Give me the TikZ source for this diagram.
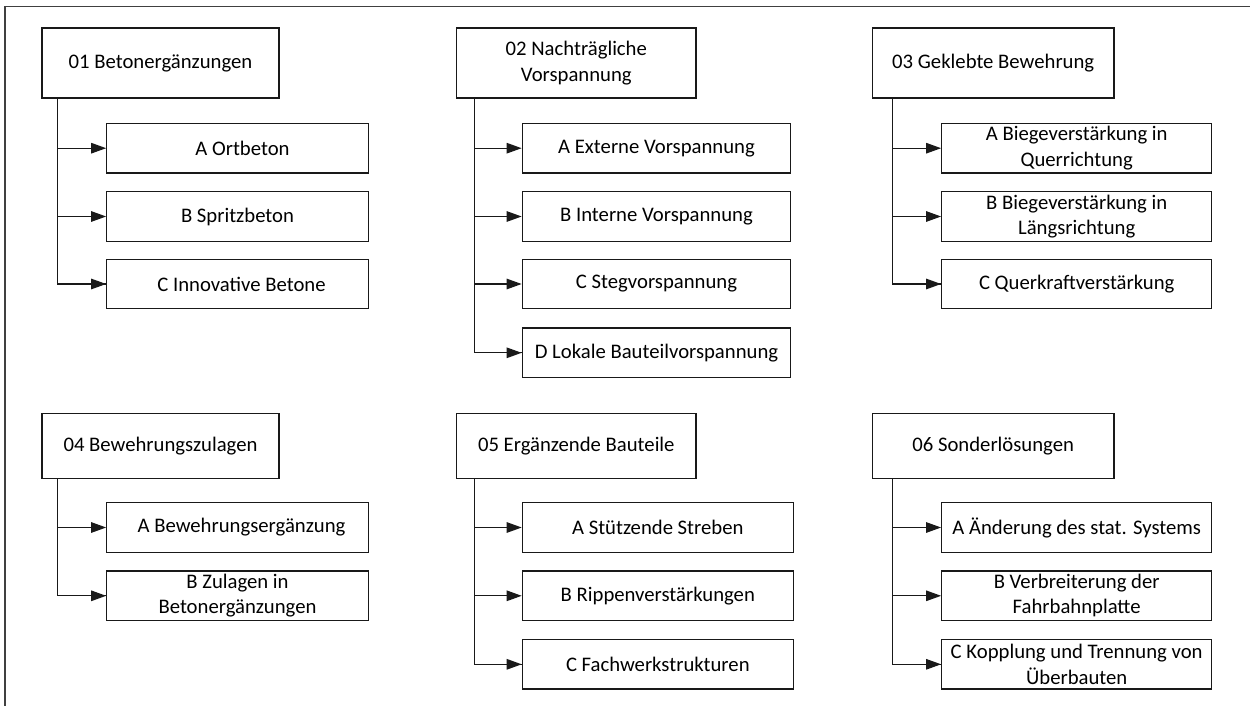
\documentclass[tikz,border=0pt]{standalone}
\usepackage{fontspec}
\setmainfont{Carlito}
\usetikzlibrary{arrows.meta}

\begin{document}
\begin{tikzpicture}[x=1bp,y=-1bp,
  every node/.style={font=\fontsize{20.7bp}{25.3bp}\selectfont, align=center, inner sep=0pt},
  headbox/.style={draw=black!90, line width=1.2bp, rectangle, minimum width=#1},
  subbox/.style={draw=black!90, line width=1.2bp, rectangle, minimum height=49.5bp, minimum width=#1},
  trunk/.style={draw=black!90, line width=1.2bp},
  branch/.style={draw=black!90, line width=1.2bp, -{Triangle[length=15bp,width=10.5bp]}},
  frameline/.style={draw=black!75, line width=1.6bp}
]
\useasboundingbox (0,0) rectangle (1250,706);

% outer frame (only left and top edges lie inside the page)
\draw[frameline] (5,712) -- (5,6.5) -- (1256,6.5);

% ---------- 01 ----------
\node[headbox=237bp, minimum height=70bp] (h1) at (160.5,63) {01 Betonergänzungen};
\node[subbox=261.5bp] (a1) at (237.5,148.2) {\hspace*{10bp}A Ortbeton};
\node[subbox=261.5bp] (b1) at (237.5,216.5) {B Spritzbeton};
\node[subbox=261.5bp] (c1) at (237.5,284) {\hspace*{8bp}C Innovative Betone};
\coordinate (t1) at (57.7,98);
\draw[trunk] (t1) |- (c1.west);
\draw[branch] (t1 |- a1.west) -- (a1.west);
\draw[branch] (t1 |- b1.west) -- (b1.west);
\draw[branch] (t1 |- c1.west) -- (c1.west);

% ---------- 02 ----------
\node[headbox=239.5bp, minimum height=70bp] (h2) at (576.3,63) {02 Nachträgliche\\Vorspannung};
\node[subbox=268.5bp] (a2) at (656.5,148.2) {A Externe Vorspannung};
\node[subbox=268.5bp] (b2) at (656.5,216.5) {B Interne Vorspannung};
\node[subbox=268.5bp] (c2) at (656.5,284) {C Stegvorspannung};
\node[subbox=268.5bp] (d2) at (656.5,352.8) {D Lokale Bauteilvorspannung};
\coordinate (t2) at (474.3,98);
\draw[trunk] (t2) |- (d2.west);
\draw[branch] (t2 |- a2.west) -- (a2.west);
\draw[branch] (t2 |- b2.west) -- (b2.west);
\draw[branch] (t2 |- c2.west) -- (c2.west);
\draw[branch] (t2 |- d2.west) -- (d2.west);

% ---------- 03 ----------
\node[headbox=241.7bp, minimum height=70bp] (h3) at (993.2,63) {03 Geklebte Bewehrung};
\node[subbox=270bp] (a3) at (1076.7,148.2) {A Biegeverstärkung in\\Querrichtung};
\node[subbox=270bp] (b3) at (1076.7,216.5) {B Biegeverstärkung in\\Längsrichtung};
\node[subbox=270bp] (c3) at (1076.7,284) {C Querkraftverstärkung};
\coordinate (t3) at (892.7,98);
\draw[trunk] (t3) |- (c3.west);
\draw[branch] (t3 |- a3.west) -- (a3.west);
\draw[branch] (t3 |- b3.west) -- (b3.west);
\draw[branch] (t3 |- c3.west) -- (c3.west);

% ---------- 04 ----------
\node[headbox=237bp, minimum height=65bp] (h4) at (160.5,445.7) {04 Bewehrungszulagen};
\node[subbox=261.5bp] (a4) at (237.5,527.5) {\hspace*{8bp}A Bewehrungsergänzung};
\node[subbox=261.5bp] (b4) at (237.5,595.8) {B Zulagen in\\Betonergänzungen};
\coordinate (t4) at (57.7,478.2);
\draw[trunk] (t4) |- (b4.west);
\draw[branch] (t4 |- a4.west) -- (a4.west);
\draw[branch] (t4 |- b4.west) -- (b4.west);

% ---------- 05 ----------
\node[headbox=239.5bp, minimum height=65bp] (h5) at (576.3,445.7) {05 Ergänzende Bauteile};
\node[subbox=271bp] (a5) at (657.8,527.5) {A Stützende Streben};
\node[subbox=271bp] (b5) at (657.8,595.8) {B Rippenverstärkungen};
\node[subbox=271bp] (c5) at (657.8,664.3) {C Fachwerkstrukturen};
\coordinate (t5) at (474.3,478.2);
\draw[trunk] (t5) |- (c5.west);
\draw[branch] (t5 |- a5.west) -- (a5.west);
\draw[branch] (t5 |- b5.west) -- (b5.west);
\draw[branch] (t5 |- c5.west) -- (c5.west);

% ---------- 06 ----------
\node[headbox=241.7bp, minimum height=65bp] (h6) at (993.2,445.7) {06 Sonderlösungen};
\node[subbox=270bp] (a6) at (1076.7,527.5) {A Änderung des stat. Systems};
\node[subbox=270bp] (b6) at (1076.7,595.8) {B Verbreiterung der\\Fahrbahnplatte};
\node[subbox=270bp] (c6) at (1076.7,664.3) {C Kopplung und Trennung von\\Überbauten};
\coordinate (t6) at (892.7,478.2);
\draw[trunk] (t6) |- (c6.west);
\draw[branch] (t6 |- a6.west) -- (a6.west);
\draw[branch] (t6 |- b6.west) -- (b6.west);
\draw[branch] (t6 |- c6.west) -- (c6.west);
\end{tikzpicture}
\end{document}
